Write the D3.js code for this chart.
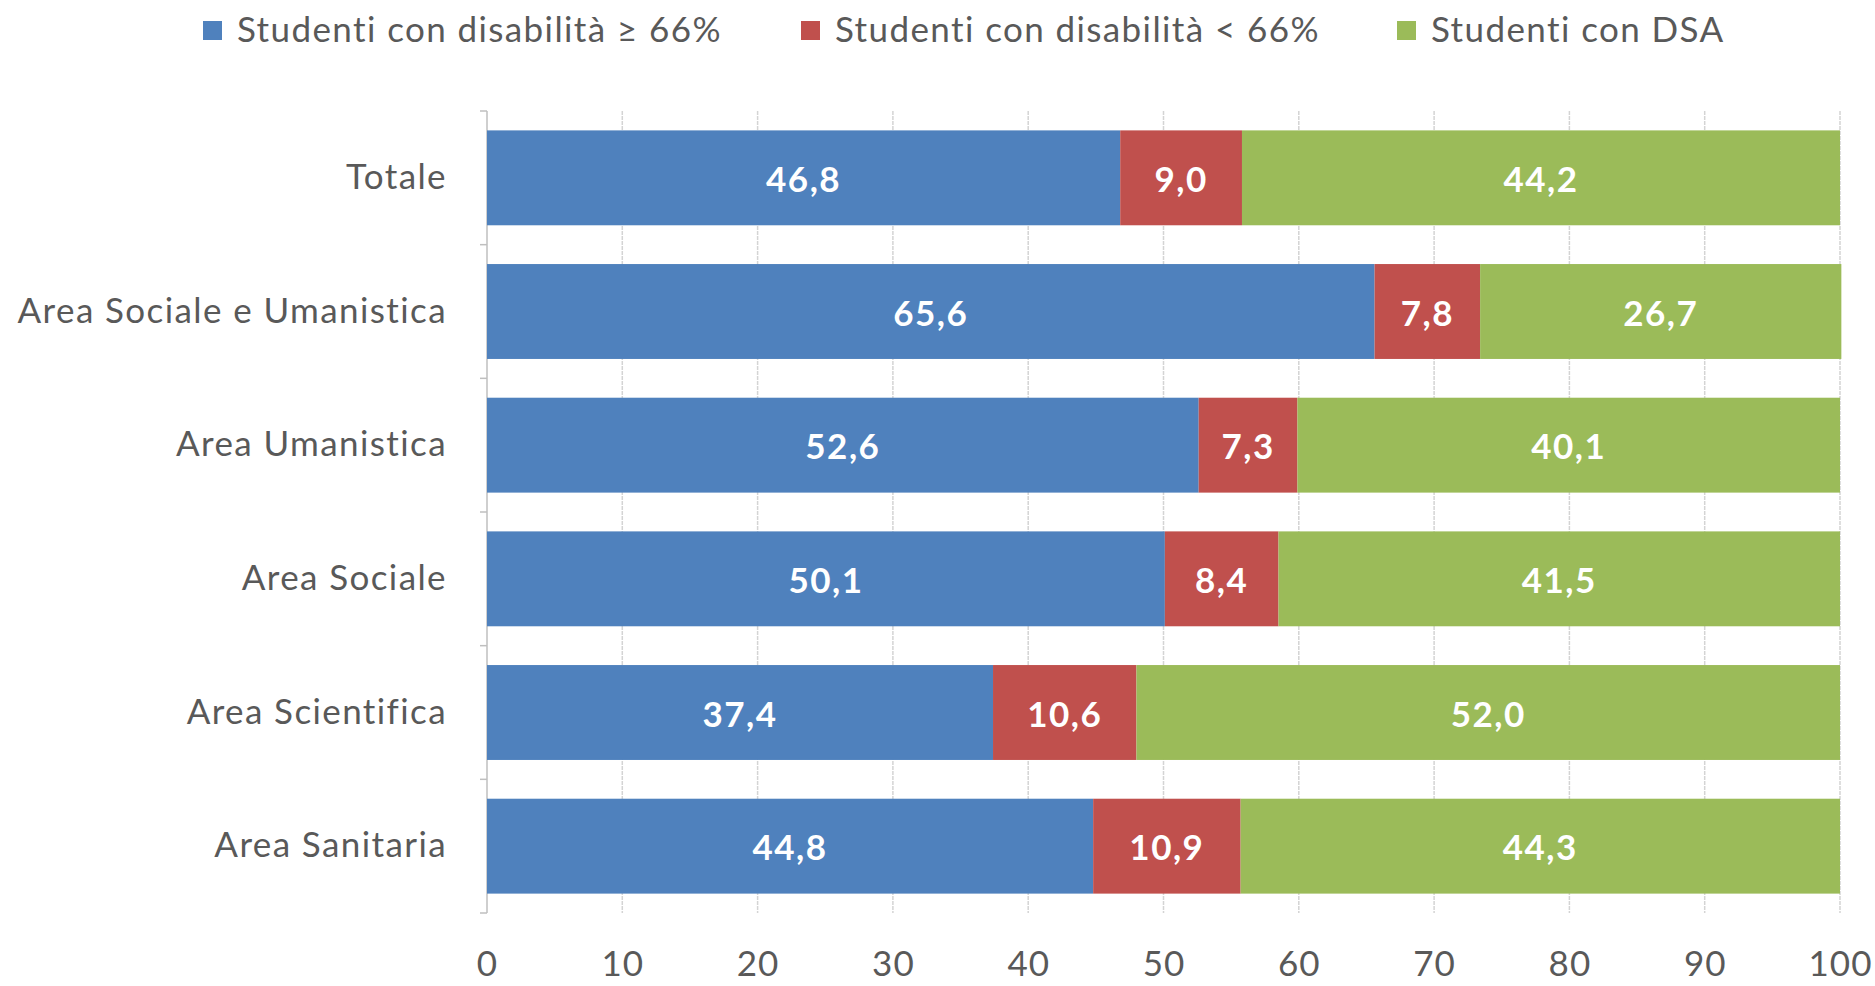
<!DOCTYPE html>
<html><head><meta charset="utf-8">
<script src="https://cdn.jsdelivr.net/npm/d3@7"></script>
<style>html,body{margin:0;padding:0;background:#fff;}svg{display:block;}</style>
</head><body>
<svg id="chart" width="1875" height="986"></svg>
<script>
const categories = ["Totale","Area Sociale e Umanistica","Area Umanistica","Area Sociale","Area Scientifica","Area Sanitaria"];
const seriesNames = ["Studenti con disabilità ≥ 66%","Studenti con disabilità < 66%","Studenti con DSA"];
const disabGe66 = [46.8,65.6,52.6,50.1,37.4,44.8];
const disabLt66 = [9.0,7.8,7.3,8.4,10.6,10.9];
const dsa = [44.2,26.7,40.1,41.5,52.0,44.3];
const xTicks = [0,10,20,30,40,50,60,70,80,90,100];
const colors = ["#4F81BD","#C0504D","#9BBB59"];

const FONT = "Lato, 'Noto Sans', sans-serif";
const svg = d3.select("#chart");
const rows = categories.map((c,i)=>({cat:c, v:[disabGe66[i],disabLt66[i],dsa[i]]}));
const stack = d3.stack().keys([0,1,2]).value((d,k)=>d.v[k]);
const layers = stack(rows);

const x = d3.scaleLinear().domain([0,100]).range([487,1840]);
const y = d3.scaleBand().domain(categories).range([111,913]).paddingInner(0.29).paddingOuter(0.145);

// gridlines
svg.append("g").selectAll("line").data(xTicks.slice(1)).join("line")
  .attr("x1",d=>x(d)).attr("x2",d=>x(d)).attr("y1",111).attr("y2",913)
  .attr("stroke","#d4d4d4").attr("stroke-width",1.5).attr("stroke-dasharray","4,1");

// category axis
const yAxis = d3.axisLeft(y).tickSize(0).tickPadding(40);
const gy = svg.append("g").attr("transform","translate(487,0)").call(yAxis);
gy.select(".domain").attr("stroke","#bfbfbf").attr("stroke-width",1.5).attr("d","M0,111V913");
gy.selectAll("text").attr("font-family",FONT).attr("font-size",35).attr("letter-spacing","1.4px").attr("fill","#595959");
// boundary ticks between categories
const bounds = d3.range(categories.length+1).map(i=>111 + i*y.step());
svg.append("g").selectAll("line").data(bounds).join("line")
  .attr("x1",480).attr("x2",487).attr("y1",d=>d).attr("y2",d=>d)
  .attr("stroke","#bfbfbf").attr("stroke-width",1.5);

// value axis labels
const xAxis = d3.axisBottom(x).tickValues(xTicks).tickSize(0).tickPadding(0);
const gx = svg.append("g").attr("transform","translate(0,964)").call(xAxis);
gx.select(".domain").remove();
gx.selectAll("text").attr("font-family",FONT).attr("font-size",35).attr("letter-spacing","1px").attr("fill","#595959").attr("dy","0.35em");

// bars
const fmt = v => d3.format(".1f")(v).replace(".",",");
const lg = svg.append("g").selectAll("g").data(layers).join("g").attr("fill",(d,i)=>colors[i]);
lg.selectAll("rect").data(d=>d).join("rect")
  .attr("x",d=>x(d[0])).attr("width",d=>x(d[1])-x(d[0]))
  .attr("y",d=>y(d.data.cat)).attr("height",y.bandwidth());
svg.append("g").selectAll("g").data(layers).join("g").selectAll("text").data(d=>d.map(p=>({p,k:d.key}))).join("text")
  .attr("x",d=>(x(d.p[0])+x(d.p[1]))/2).attr("y",d=>y(d.p.data.cat)+y.bandwidth()/2+2)
  .attr("dy","0.35em").attr("text-anchor","middle")
  .attr("font-family",FONT).attr("font-weight","bold").attr("font-size",35).attr("letter-spacing","1.5px").attr("fill","#fff")
  .text(d=>fmt(d.p.data.v[d.k]));

// legend
const legendX = [203,801,1397];
const leg = svg.append("g").selectAll("g").data(seriesNames).join("g")
  .attr("transform",(d,i)=>`translate(${legendX[i]},30)`);
leg.append("rect").attr("x",0).attr("y",-9).attr("width",19).attr("height",19).attr("fill",(d,i)=>colors[i]);
leg.append("text").attr("x",34).attr("dy","0.35em").attr("font-family",FONT).attr("font-size",35).attr("letter-spacing","1.4px").attr("fill","#595959").text(d=>d);
</script>
</body></html>
